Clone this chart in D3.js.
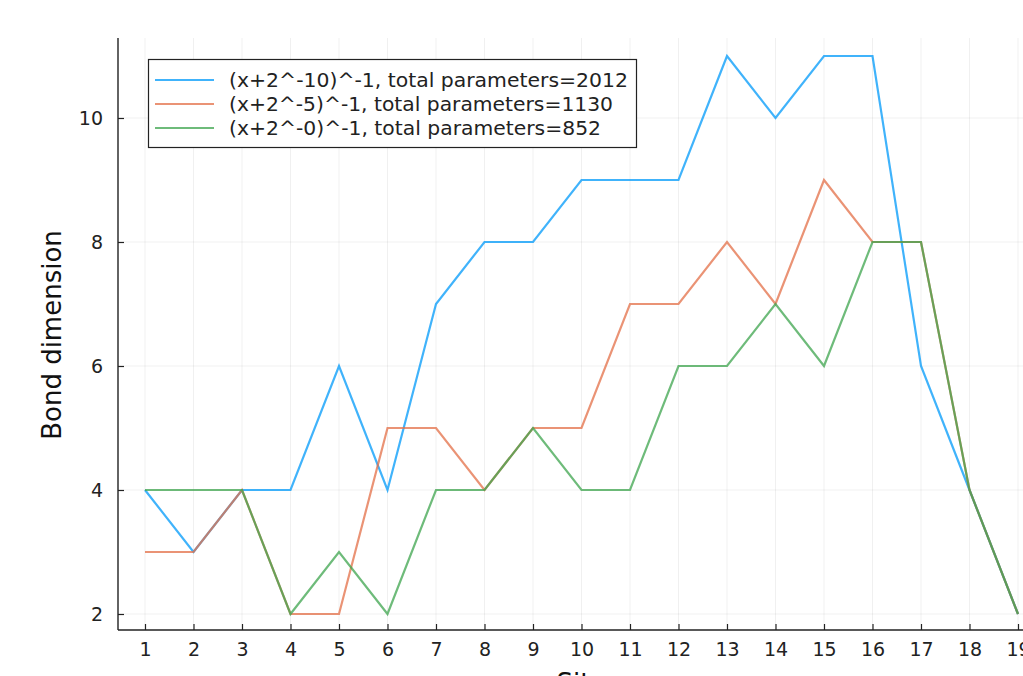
<!DOCTYPE html>
<html>
<head>
<meta charset="utf-8">
<script src="https://cdn.jsdelivr.net/npm/d3@7"></script>
<style>
  html, body { margin: 0; padding: 0; background: #fff; overflow: hidden; }
  svg { display: block; font-family: "DejaVu Sans", sans-serif; }
</style>
</head>
<body>
<svg id="chart" width="1023" height="676"></svg>
<script>
// Bond dimension per site for three regularisation settings
const sites = d3.range(1, 20);
const seriesLabels = [
  "(x+2^-10)^-1, total parameters=2012",
  "(x+2^-5)^-1, total parameters=1130",
  "(x+2^-0)^-1, total parameters=852"
];
const bondA = [4, 3, 4, 4, 6, 4, 7, 8, 8, 9, 9, 9, 11, 10, 11, 11, 6, 4, 2];
const bondB = [3, 3, 4, 2, 2, 5, 5, 4, 5, 5, 7, 7, 8, 7, 9, 8, 8, 4, 2];
const bondC = [4, 4, 4, 2, 3, 2, 4, 4, 5, 4, 4, 6, 6, 7, 6, 8, 8, 4, 2];
const yTicks = [2, 4, 6, 8, 10];
const colors = ["#009AFA", "#E36F47", "#3EA44E"];

const series = [bondA, bondB, bondC].map((v, i) => ({
  label: seriesLabels[i], color: colors[i],
  points: sites.map((s, j) => ({ x: s, y: v[j] }))
}));

const svg = d3.select("#chart");
const plotLeft = 118, plotTop = 38, plotBottom = 630;

const x = d3.scaleLinear().domain([1, 19]).range([145, 1018]);
const xLo = x.invert(plotLeft);
const xHi = 20 - xLo;
const y = d3.scaleLinear().domain([2, 10]).range([614, 118]);
const plotRight = x(xHi);

// grid
const grid = svg.append("g");
grid.selectAll("line.gx").data(sites).join("line")
  .attr("x1", d => x(d)).attr("x2", d => x(d))
  .attr("y1", plotTop).attr("y2", plotBottom)
  .attr("stroke", "#000").attr("stroke-opacity", 0.1).attr("stroke-width", 0.6);
grid.selectAll("line.gy").data(yTicks).join("line")
  .attr("x1", plotLeft).attr("x2", plotRight)
  .attr("y1", d => y(d)).attr("y2", d => y(d))
  .attr("stroke", "#000").attr("stroke-opacity", 0.1).attr("stroke-width", 0.6);

// series lines
const line = d3.line().x(d => x(d.x)).y(d => y(d.y));
svg.append("g").selectAll("path").data(series).join("path")
  .attr("d", d => line(d.points))
  .attr("fill", "none")
  .attr("stroke", d => d.color)
  .attr("stroke-opacity", 0.75)
  .attr("stroke-width", 2.2)
  .attr("stroke-linejoin", "miter");

// axes
const xAxis = d3.axisBottom(x).tickValues(sites).tickSize(-6).tickPadding(13).tickFormat(d3.format("d"));
const gx = svg.append("g").attr("transform", `translate(0,${plotBottom})`).call(xAxis);
gx.select(".domain").attr("d", `M${plotLeft},0H${plotRight}`).attr("stroke", "#222").attr("stroke-width", 1.4);
gx.selectAll(".tick line").attr("stroke", "#222").attr("stroke-width", 1.2);
gx.selectAll(".tick text").attr("font-size", 19).attr("fill", "#222")
  .attr("font-family", "DejaVu Sans, sans-serif");

const yAxis = d3.axisLeft(y).tickValues(yTicks).tickSize(-6).tickPadding(15).tickFormat(d3.format("d"));
const gy = svg.append("g").attr("transform", `translate(${plotLeft},0)`).call(yAxis);
gy.select(".domain").attr("d", `M0,${plotTop}V${plotBottom}`).attr("stroke", "#222").attr("stroke-width", 1.4);
gy.selectAll(".tick line").attr("stroke", "#222").attr("stroke-width", 1.2);
gy.selectAll(".tick text").attr("font-size", 19).attr("fill", "#222")
  .attr("font-family", "DejaVu Sans, sans-serif");

// axis titles
svg.append("text").attr("x", x(10)).attr("y", 692)
  .attr("text-anchor", "middle").attr("font-size", 26).attr("fill", "#111").text("Site");
svg.append("text").attr("transform", "translate(61,335) rotate(-90)")
  .attr("text-anchor", "middle").attr("font-size", 26).attr("fill", "#111").text("Bond dimension");

// legend
const lg = svg.append("g");
lg.append("rect").attr("x", 148.5).attr("y", 59.5).attr("width", 488).attr("height", 88)
  .attr("fill", "#fff").attr("stroke", "#222").attr("stroke-width", 1.2);
const legendWidths = [399, 384, 372];
series.forEach((s, i) => {
  const ly = 80 + i * 24;
  lg.append("line").attr("x1", 155).attr("x2", 214).attr("y1", ly).attr("y2", ly)
    .attr("stroke", s.color).attr("stroke-opacity", 0.75).attr("stroke-width", 2.2);
  lg.append("text").attr("x", 229).attr("y", ly).attr("dy", "0.35em")
    .attr("font-size", 19).attr("fill", "#222")
    .attr("textLength", legendWidths[i]).attr("lengthAdjust", "spacingAndGlyphs")
    .text(s.label);
});
</script>
</body>
</html>
